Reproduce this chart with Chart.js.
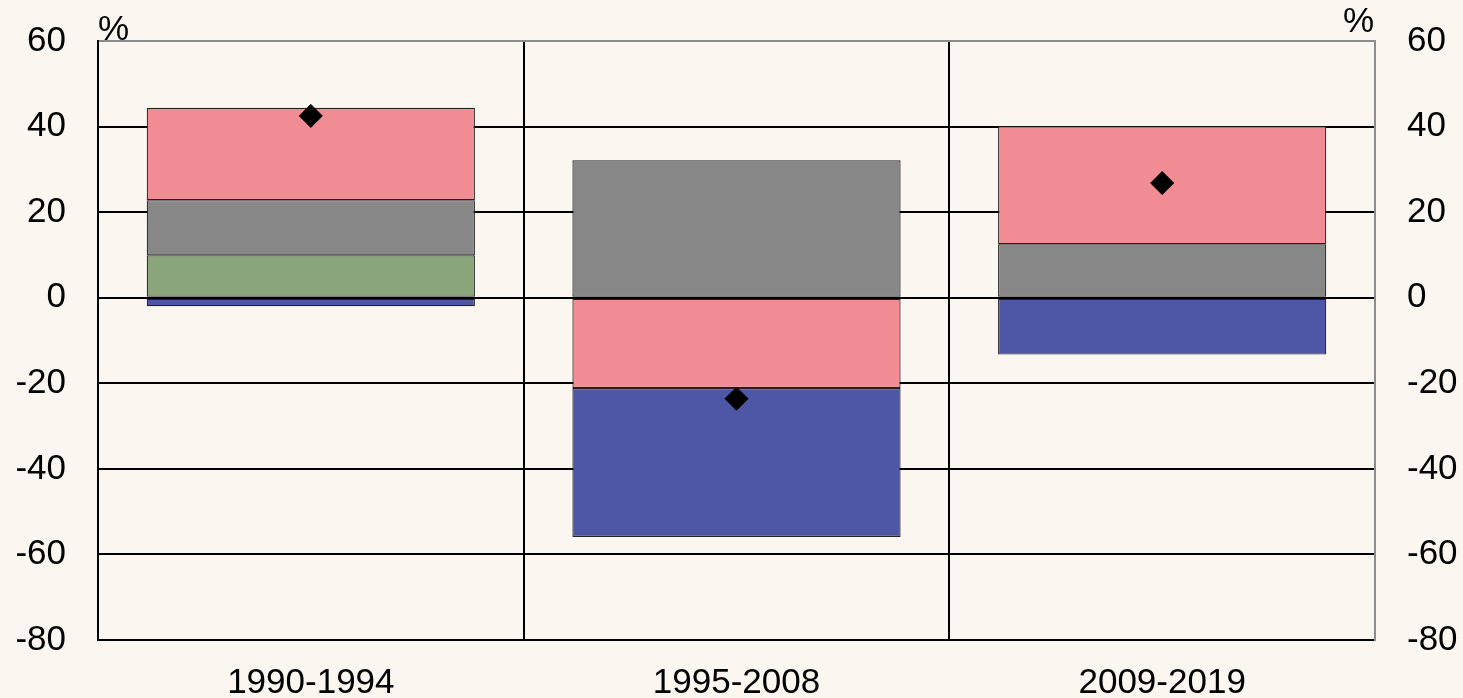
<!DOCTYPE html>
<html>
<head>
<meta charset="utf-8">
<script src="https://cdn.jsdelivr.net/npm/chart.js@4/dist/chart.umd.min.js"></script>
<style>
  html, body { margin: 0; padding: 0; background: #fbf6f0; }
  #wrap { width: 1463px; height: 698px; }
</style>
</head>
<body>
<div id="wrap"><canvas id="myChart" width="1463" height="698"></canvas></div>
<script>
// periods on the x axis
const periods = ["1990-1994", "1995-2008", "2009-2019"];

// stacked contributions (ppt)
const greenPart = [9.9, 0, 0];
const greyPart = [12.9, 32.1, 12.5];
const pinkPart = [21.6, -21.1, 27.6];
const bluePart = [-2.0, -34.8, -13.3];

// total (diamond markers)
const totals = [42.5, -23.6, 26.8];

const yTicks = [60, 40, 20, 0, -20, -40, -60, -80];

const tickFont = { family: "Arial, 'Liberation Sans', sans-serif", size: 35 };
const edgeGrey = "#8c8c8c";

function barSet(label, values, colour) {
    return {
        type: "bar",
        label: label,
        data: values,
        backgroundColor: colour,
        borderColor: "#222222",
        borderWidth: 1.2,
        borderSkipped: false,
        barPercentage: 0.771,
        categoryPercentage: 1,
        stack: "bars",
        order: 1
    };
}

// fixed axis width, no extra top/bottom padding from the tick labels
function fixWidth(w) {
    return function (scale) {
        scale.width = w;
        scale.paddingTop = 0;
        scale.paddingBottom = 0;
    };
}

// draws the "%" unit labels at the top of both axes
const unitLabels = {
    id: "unitLabels",
    afterDraw(chart) {
        const c = chart.ctx;
        const area = chart.chartArea;
        c.save();
        c.fillStyle = "#000";
        c.font = "35px Arial, 'Liberation Sans', sans-serif";
        c.textBaseline = "alphabetic";
        c.textAlign = "left";
        c.fillText("%", area.left, area.top - 1);
        c.textAlign = "right";
        c.fillText("%", area.right - 1, area.top - 9);
        c.restore();
    }
};

const ctx = document.getElementById("myChart").getContext("2d");
const chart = new Chart(ctx, {
    data: {
        labels: periods,
        datasets: [
            barSet("Green", greenPart, "#8ba57a"),
            barSet("Grey", greyPart, "#878787"),
            barSet("Pink", pinkPart, "#f28c94"),
            barSet("Blue", bluePart, "#4e56a6"),
            {
                type: "line",
                label: "Total",
                data: totals,
                showLine: false,
                pointStyle: "rectRot",
                pointRadius: 11.5,
                pointBackgroundColor: "#000",
                pointBorderColor: "#000",
                pointBorderWidth: 1,
                stack: "total",
                order: 0
            }
        ]
    },
    options: {
        responsive: false,
        animation: false,
        layout: { padding: { top: 41, left: 0, right: 0, bottom: 0 } },
        plugins: {
            legend: { display: false },
            tooltip: { enabled: false }
        },
        scales: {
            x: {
                stacked: true,
                offset: true,
                grid: {
                    offset: true,
                    drawTicks: false,
                    lineWidth: 2,
                    color: (c) => (c.index === periods.length ? edgeGrey : "#000")
                },
                border: { color: "#000", width: 2 },
                ticks: { color: "#000", font: tickFont, padding: 22, maxRotation: 0 },
                afterFit(scale) {
                    scale.height = 58;
                    scale.paddingLeft = 0;
                    scale.paddingRight = 0;
                }
            },
            y: {
                position: "left",
                stacked: true,
                min: -80,
                max: 60,
                afterBuildTicks(scale) { scale.ticks = yTicks.map(v => ({ value: v })); },
                grid: {
                    drawTicks: false,
                    lineWidth: 2,
                    color: (c) => (c.tick && c.tick.value === 60 ? edgeGrey : "#000")
                },
                border: { color: "#000", width: 2 },
                ticks: { color: "#000", font: tickFont, padding: 32 },
                afterFit: fixWidth(98)
            },
            y2: {
                position: "right",
                min: -80,
                max: 60,
                afterBuildTicks(scale) { scale.ticks = yTicks.map(v => ({ value: v })); },
                grid: { display: false, drawTicks: false },
                border: { color: edgeGrey, width: 2 },
                ticks: { color: "#000", font: tickFont, padding: 32 },
                afterFit: fixWidth(88)
            }
        }
    },
    plugins: [unitLabels]
});
</script>
</body>
</html>
